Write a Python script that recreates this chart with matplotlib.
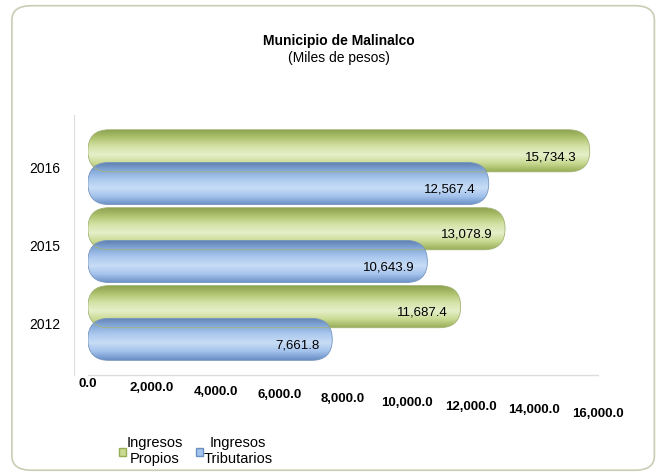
import numpy as np
import matplotlib
matplotlib.use("Agg")
import matplotlib.pyplot as plt
from matplotlib.patches import FancyBboxPatch
from matplotlib.colors import LinearSegmentedColormap

plt.rcParams['font.family'] = ['Liberation Sans', 'DejaVu Sans']

# data
years = ['2012', '2015', '2016']
propios = [11687.4, 13078.9, 15734.3]
tributarios = [7661.8, 10643.9, 12567.4]
xticks = [0, 2000, 4000, 6000, 8000, 10000, 12000, 14000, 16000]

fig = plt.figure(figsize=(6.61, 4.75), dpi=100)

# rounded frame round the whole chart
frame = FancyBboxPatch((0.018, 0.01), 0.972, 0.978, boxstyle="round,pad=0,rounding_size=0.03",
                       transform=fig.transFigure, fc='white', ec='#c9cdb4', lw=1.2, zorder=-10)
fig.patches.append(frame)

fig.text(0.513, 0.914, 'Municipio de Malinalco', ha='center', va='center', fontsize=10, fontweight='bold')
fig.text(0.513, 0.878, '(Miles de pesos)', ha='center', va='center', fontsize=10)

ax = fig.add_axes([0.133, 0.2105, 0.772, 0.547])
ax.set_xlim(0, 16000)
ax.set_ylim(-0.667, 2.667)

# px per unit, to keep the round ends circular
ax_w = 0.772 * 661
ax_h = 0.547 * 475
x_per_px = 16000 / ax_w
y_per_px = 3.334 / ax_h
aspect = y_per_px / x_per_px

green = LinearSegmentedColormap.from_list('g', ['#97ad55', '#c9da93', '#e6efc9', '#d4e2a6', '#b0c470', '#8aa04c'])
blue = LinearSegmentedColormap.from_list('b', ['#6a90c6', '#a4c3ec', '#c8ddf6', '#acc9ee', '#86aadb', '#5f80b0'])

h = 0.54
off = 0.21


def cyl_bar(v, yc, cmap, ec):
    y0 = yc - h / 2
    r = (h / 2) / aspect
    p = FancyBboxPatch((0, y0), v, h, boxstyle="round,pad=0,rounding_size=%f" % r,
                       mutation_aspect=aspect, fc='none', ec=ec, lw=0.6, zorder=3)
    ax.add_patch(p)
    grad = np.linspace(0, 1, 64).reshape(-1, 1)
    im = ax.imshow(grad, cmap=cmap, aspect='auto', extent=(0, v, y0 + h, y0),
                   origin='upper', zorder=2, interpolation='bilinear')
    im.set_clip_path(p)


ypos = np.arange(len(years))
for i in range(len(years)):
    cyl_bar(propios[i], ypos[i] + off, green, '#a3b377')
    cyl_bar(tributarios[i], ypos[i] - off, blue, '#7896bd')
    ax.text(propios[i] - 400, ypos[i] + off - 0.08, f'{propios[i]:,.1f}', ha='right', va='center',
            fontsize=9.5, zorder=5)
    ax.text(tributarios[i] - 400, ypos[i] - off - 0.08, f'{tributarios[i]:,.1f}', ha='right', va='center',
            fontsize=9.5, zorder=5)

ax.set_xlim(0, 16000)
ax.set_ylim(-0.667, 2.667)

ax.set_yticks(ypos)
ax.set_yticklabels(years, fontsize=11.5)
ax.tick_params(axis='y', length=0, pad=10)
ax.set_xticks([])
for s in ['top', 'right', 'bottom']:
    ax.spines[s].set_visible(False)
ax.spines['left'].set_color('#dcdcdc')
ax.spines['left'].set_position(('outward', 10))
ax.patch.set_alpha(0)

# slanted axis labels like the 3d view
for t in xticks:
    ax.annotate(f'{t:,.1f}', xy=(t, 0), xycoords=('data', 'axes fraction'),
                xytext=(0, -9 - 30 * t / 16000), textcoords='offset pixels',
                ha='center', va='center', fontsize=9.5, fontweight='bold')
ax.plot([0, 16000], [0, 0], transform=ax.get_xaxis_transform(), color='#dcdcdc', lw=1, clip_on=False)

hp = plt.Rectangle((0, 0), 1, 1, fc='#c9da93', ec='#97ad55')
hb = plt.Rectangle((0, 0), 1, 1, fc='#a4c3ec', ec='#6a90c6')
leg = fig.legend([hp, hb], ['Ingresos\nPropios', 'Ingresos\nTributarios'], loc='upper left',
                 bbox_to_anchor=(0.165, 0.103), ncol=2, frameon=False, fontsize=10.5,
                 handlelength=0.45, handleheight=0.45, handletextpad=0.05, columnspacing=0.9,
                 labelspacing=0.2, borderpad=0.2)
for t in leg.get_texts():
    t.set_multialignment('center')

fig.savefig('out.png', dpi=100)
